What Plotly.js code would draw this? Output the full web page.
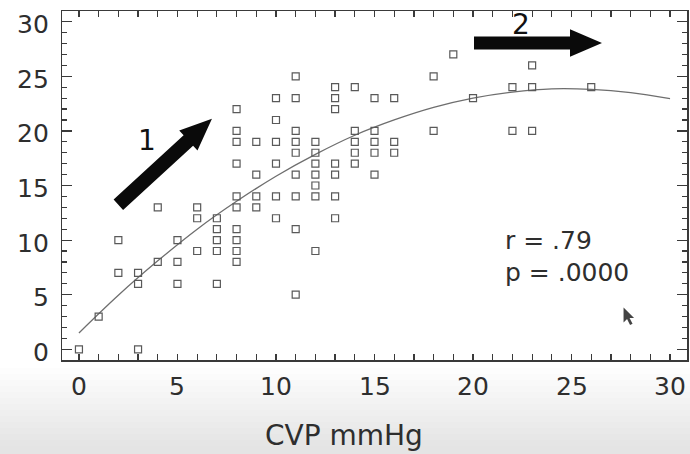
<!DOCTYPE html>
<html>
<head>
<meta charset="utf-8">
<script src="https://cdn.plot.ly/plotly-3.0.1.min.js"></script>
<style>
  html, body { margin: 0; padding: 0; background: #ffffff; }
  #chart { width: 690px; height: 454px; }
</style>
</head>
<body>
<div id="chart"></div>
<script>
// Scatter data (CVP mmHg on x)
const cvp = [0, 1, 2, 2, 3, 3, 3, 4, 4, 5, 5, 5, 6, 6, 6,
  7, 7, 7, 7, 7,
  8, 8, 8, 8, 8, 8, 8, 8, 8, 8,
  9, 9, 9, 9,
  10, 10, 10, 10, 10, 10,
  11, 11, 11, 11, 11, 11, 11, 11, 11,
  12, 12, 12, 12, 12, 12, 12,
  13, 13, 13, 13, 13, 13, 13,
  14, 14, 14, 14, 14,
  15, 15, 15, 15, 15,
  16, 16, 16,
  18, 18, 19, 20, 22, 22, 23, 23, 23, 26];
const response = [0, 3, 10, 7, 7, 6, 0, 13, 8, 10, 8, 6, 13, 12, 9,
  12, 11, 10, 9, 6,
  22, 20, 19, 17, 14, 13, 11, 10, 9, 8,
  19, 16, 14, 13,
  23, 21, 19, 17, 14, 12,
  25, 23, 20, 19, 18, 16, 14, 11, 5,
  19, 18, 17, 16, 15, 14, 9,
  24, 23, 22, 17, 16, 14, 12,
  24, 20, 19, 18, 17,
  23, 20, 19, 18, 16,
  23, 19, 18,
  25, 20, 27, 23, 24, 20, 26, 24, 20, 24];

// Fitted curve, values
const fitX = [0, 2, 4, 6, 8, 10, 12, 14, 16, 18, 20, 22, 24, 26, 28, 30];
const fitY = [1.5, 4.95, 8.1, 11.0, 13.55, 15.85, 17.85, 19.6, 21.0, 22.15, 23.0, 23.55, 23.85, 23.8, 23.5, 22.95];

// Tick labels
const xTicks = [0, 5, 10, 15, 20, 25, 30];
const yTicks = [0, 5, 10, 15, 20, 25, 30];

const statsLines = ["r = .79", "p = .0000"];
const xTitle = "CVP mmHg";

const FONT = "DejaVu Sans, Liberation Sans, Arial, sans-serif";
const INK = "#2e2e2e";
const AX = "#3a3a3a";

const traces = [
  {
    x: fitX, y: fitY, type: "scatter", mode: "lines",
    line: { color: "#6e6e6e", width: 1.3, shape: "spline", smoothing: 1.0 },
    hoverinfo: "skip", showlegend: false
  },
  {
    x: cvp, y: response, type: "scatter", mode: "markers",
    marker: { symbol: "square-open", size: 7, color: "#595959", line: { width: 1.2, color: "#595959" } },
    cliponaxis: false, showlegend: false
  }
];

// light grey gradient at the bottom of the captured picture
const shapes = [];
for (let i = 0; i < 14; i++) {
  shapes.push({
    type: "rect", xref: "paper", yref: "paper", layer: "below",
    x0: -0.12, x1: 1.01,
    y0: -(94 / 349), y1: -((8 + i * 6) / 349),
    fillcolor: "#c8c8c8", opacity: 0.04, line: { width: 0 }
  });
}
// Arrow "1" (pixel-sized path anchored at its tail)
shapes.push({
  type: "path", xref: "x", yref: "y", xsizemode: "pixel", ysizemode: "pixel",
  xanchor: 2.0, yanchor: 13.24,
  path: "M4.73,-5.16 L74.73,59.04 L79.13,54.25 L93.6,85.9 L60.87,74.15 L65.27,69.36 L-4.73,5.16 Z",
  fillcolor: "#0a0a0a", line: { width: 0 }
});
// Arrow "2"
shapes.push({
  type: "path", xref: "x", yref: "y", xsizemode: "pixel", ysizemode: "pixel",
  xanchor: 20.05, yanchor: 28.05,
  path: "M0,-6.5 L96,-6.5 L96,-13.7 L128,0 L96,13.7 L96,6.5 L0,6.5 Z",
  fillcolor: "#0a0a0a", line: { width: 0 }
});
// mouse pointer captured in the picture
shapes.push({
  type: "path", xref: "x", yref: "y", xsizemode: "pixel", ysizemode: "pixel",
  xanchor: 27.64, yanchor: 3.83,
  path: "M0,0 L0,-15 L3.5,-11.5 L6.5,-17.5 L9,-16.3 L6,-10.5 L10.5,-10.5 Z",
  fillcolor: "#222222", opacity: 0.85, line: { width: 0 }
});

const annotations = [
  { text: "1", x: 3.44, y: 19.16, xref: "x", yref: "y", showarrow: false,
    xanchor: "center", yanchor: "middle", font: { family: FONT, size: 28, color: "#111" } },
  { text: "2", x: 22.44, y: 29.75, xref: "x", yref: "y", showarrow: false,
    xanchor: "center", yanchor: "middle", font: { family: FONT, size: 28, color: "#111" } },
  { text: statsLines[0], x: 21.52, y: 9.92, xref: "x", yref: "y", showarrow: false,
    xanchor: "left", yanchor: "middle", font: { family: FONT, size: 25, color: INK } },
  { text: statsLines[1], x: 21.52, y: 6.99, xref: "x", yref: "y", showarrow: false,
    xanchor: "left", yanchor: "middle", font: { family: FONT, size: 25, color: INK } },
  { text: xTitle, x: 0.451, y: -0.215, xref: "paper", yref: "paper", showarrow: false,
    xanchor: "center", yanchor: "middle", font: { family: FONT, size: 28, color: INK } }
];
// tick labels placed on the axis scales
xTicks.forEach(function (v) {
  annotations.push({ text: String(v), x: v, y: -0.0745, xref: "x", yref: "paper",
    showarrow: false, xanchor: "center", yanchor: "middle",
    font: { family: FONT, size: 25, color: INK } });
});
yTicks.forEach(function (v) {
  annotations.push({ text: String(v), x: -0.0184, y: v, xref: "paper", yref: "y",
    showarrow: false, xanchor: "right", yanchor: "middle", yshift: -3,
    font: { family: FONT, size: 25, color: INK } });
});

const axisCommon = {
  showgrid: false, zeroline: false,
  showline: true, linecolor: AX, linewidth: 1.5, mirror: "ticks",
  ticks: "inside", tickcolor: AX, tickwidth: 1.2,
  showticklabels: false,
  fixedrange: true
};

const layout = {
  width: 690, height: 454,
  margin: { l: 62, r: 3, t: 11, b: 94, pad: 0 },
  paper_bgcolor: "#ffffff",
  plot_bgcolor: "#ffffff",
  showlegend: false,
  xaxis: Object.assign({}, axisCommon, {
    range: [-0.86, 30.86],
    tickmode: "array", tickvals: xTicks,
    ticklen: 6,
    minor: { dtick: 1, tick0: 0, ticks: "inside", ticklen: 6, tickcolor: AX, tickwidth: 1.2 }
  }),
  yaxis: Object.assign({}, axisCommon, {
    range: [-0.98, 30.98],
    tickmode: "array", tickvals: yTicks,
    ticklen: 10,
    minor: { dtick: 1, tick0: 0, ticks: "inside", ticklen: 5, tickcolor: AX, tickwidth: 1.2 }
  }),
  shapes: shapes,
  annotations: annotations
};

Plotly.newPlot("chart", traces, layout, { staticPlot: true, displayModeBar: false });
</script>
</body>
</html>
